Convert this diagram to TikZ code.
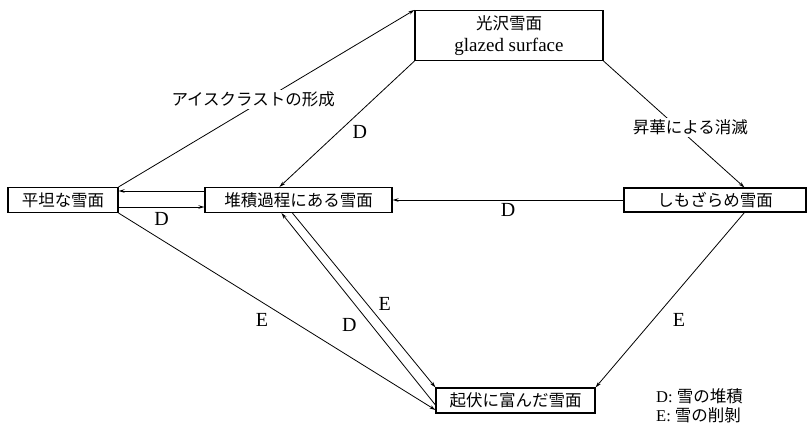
\documentclass[tikz,border=0pt]{standalone}
\usepackage{fontspec}
\setmainfont{Liberation Serif}
\newfontfamily\jp{Noto Sans CJK JP}
\usetikzlibrary{arrows.meta,calc}
\begin{document}
\begin{tikzpicture}[x=1pt,y=-1pt,
  box/.style={draw, line width=1.1pt, inner sep=0pt, font=\jp\fontsize{16.5}{18}\selectfont},
  conn/.style={line width=0.8pt, -{Stealth[length=6pt,width=3.5pt]}},
  lab/.style={font=\fontsize{20}{21}\selectfont, inner sep=0pt},
  jlab/.style={font=\jp\fontsize{16.5}{18}\selectfont, fill=white, inner sep=2pt}]
\useasboundingbox (0,0) rectangle (807,433);
% nodes
\node[box, minimum width=110pt, minimum height=25pt] (flat) at (63,200) {平坦な雪面};
\node[box, minimum width=187pt, minimum height=25pt] (accum) at (298.5,200) {堆積過程にある雪面};
\node[box, minimum width=188pt, minimum height=50pt, align=center, font=\fontsize{19}{22}\selectfont] (glazed) at (509,35.5) {{\jp\fontsize{16.5}{22}\selectfont 光沢雪面}\\glazed surface};
\node[box, minimum width=182pt, minimum height=24pt] (shimo) at (715,200) {しもざらめ雪面};
\node[box, minimum width=159pt, minimum height=25pt] (relief) at (515.5,400.5) {起伏に富んだ雪面};
% connectors
\draw[conn] (flat.north east) -- node[jlab, pos=0.455, yshift=7pt]{アイスクラストの形成} (glazed.north west);
\draw[conn] (glazed.south west) -- node[lab, pos=0.56, xshift=21pt]{D} ([xshift=75pt]accum.north west);
\draw[conn] (glazed.south east) -- node[jlab, pos=0.51, xshift=15pt, yshift=-2pt]{昇華による消滅} ([xshift=121pt]shimo.north west);
\draw[conn] (shimo.west) -- node[lab, below=3pt]{D} (accum.east);
\draw[conn] ([yshift=9pt]accum.west) -- ([yshift=9pt]flat.east);
\draw[conn] ([yshift=-7pt]flat.east) -- node[lab, below=5pt]{D} ([yshift=-7pt]accum.west);
\draw[conn] (flat.south east) -- node[lab, pos=0.453, yshift=-18pt]{E} ([yshift=-9.5pt]relief.west);
\draw[conn] ([yshift=-4.5pt]relief.west) -- node[lab, pos=0.417, xshift=-22pt]{D} ([xshift=77pt]accum.south west);
\draw[conn] ([xshift=88pt]accum.south west) -- node[lab, pos=0.52, xshift=18pt]{E} (relief.north west);
\draw[conn] ([xshift=121pt]shimo.south west) -- node[lab, pos=0.614, xshift=26pt]{E} (relief.north east);
% legend
\node[anchor=west, align=left, inner sep=0pt, font=\fontsize{16.5}{19}\selectfont] (legend) at (656,405.5) {D: {\jp 雪の堆積}\\E: {\jp 雪の削剝}};
\end{tikzpicture}
\end{document}
